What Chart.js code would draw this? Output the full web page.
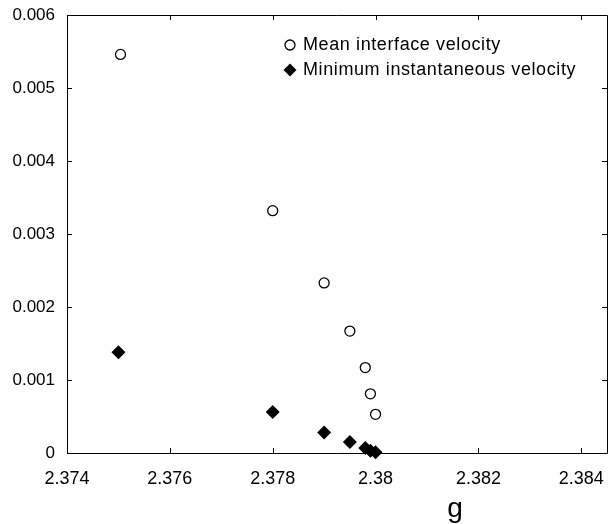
<!DOCTYPE html>
<html>
<head>
<meta charset="utf-8">
<script src="https://cdn.jsdelivr.net/npm/chart.js@4.4.0/dist/chart.umd.min.js"></script>
<style>
  html, body { margin: 0; padding: 0; background: #ffffff; overflow: hidden; }
  /* a bit wider than the window so the right frame sits at the edge, as in the figure */
  #wrap { width: 614px; height: 524px; position: relative; }
</style>
</head>
<body>
<div id="wrap"><canvas id="chart"></canvas></div>
<script>
// data
const meanG = [2.37504, 2.3780, 2.3790, 2.3795, 2.3798, 2.3799, 2.3800];
const meanV = [0.00546, 0.00332, 0.00233, 0.00167, 0.00117, 0.00081, 0.00053];
const minG = [2.3750, 2.3780, 2.3790, 2.3795, 2.3798, 2.3799, 2.3800];
const minV = [0.00138, 0.00056, 0.00028, 0.00015, 0.00007, 0.00003, 0.00001];
const seriesLabels = ["Mean interface velocity", "Minimum instantaneous velocity"];
const xLabel = "g";

const FONT = "'Liberation Sans', Arial, sans-serif";

function toPoints(xs, ys) {
  return xs.map((x, i) => ({ x: x, y: ys[i] }));
}

function fmt(v) {
  return String(Number(v.toFixed(4)));
}

// frame with inward ticks on all four sides, legend inside, axis title "g"
const framePlugin = {
  id: "frame",
  afterDraw(chart) {
    const ctx = chart.ctx;
    const a = chart.chartArea;
    const xs = chart.scales.x;
    const ys = chart.scales.y;
    const TL = 5;
    ctx.save();
    ctx.strokeStyle = "#000000";
    ctx.lineWidth = 1;
    ctx.beginPath();
    ctx.rect(a.left + 0.5, a.top + 0.5, a.right - a.left, a.bottom - a.top);
    ctx.stroke();
    ctx.beginPath();
    xs.ticks.forEach((t) => {
      const px = Math.round(xs.getPixelForValue(t.value)) + 0.5;
      ctx.moveTo(px, a.bottom);
      ctx.lineTo(px, a.bottom - TL);
      ctx.moveTo(px, a.top);
      ctx.lineTo(px, a.top + TL);
    });
    ys.ticks.forEach((t) => {
      const py = Math.round(ys.getPixelForValue(t.value)) + 0.5;
      ctx.moveTo(a.left, py);
      ctx.lineTo(a.left + TL, py);
      ctx.moveTo(a.right, py);
      ctx.lineTo(a.right - TL, py);
    });
    ctx.stroke();

    // Legend
    ctx.font = `18px ${FONT}`;
    ctx.letterSpacing = "0.6px";
    ctx.fillStyle = "#000000";
    ctx.textBaseline = "middle";
    ctx.textAlign = "left";
    const lx = 290;
    const rows = [45, 70];
    // open circle
    ctx.lineWidth = 1.3;
    ctx.beginPath();
    ctx.arc(lx, rows[0], 5, 0, Math.PI * 2);
    ctx.stroke();
    ctx.fillText(seriesLabels[0], 303, rows[0]);
    // diamond
    ctx.beginPath();
    ctx.moveTo(lx, rows[1] - 6.5);
    ctx.lineTo(lx + 6.5, rows[1]);
    ctx.lineTo(lx, rows[1] + 6.5);
    ctx.lineTo(lx - 6.5, rows[1]);
    ctx.closePath();
    ctx.fill();
    ctx.fillText(seriesLabels[1], 303, rows[1]);

    // Axis title
    ctx.letterSpacing = "0px";
    ctx.font = `28px ${FONT}`;
    ctx.textAlign = "center";
    ctx.textBaseline = "alphabetic";
    ctx.fillText(xLabel, 455, 517);
    ctx.restore();
  },
};

new Chart(document.getElementById("chart"), {
  type: "scatter",
  data: {
    datasets: [
      {
        label: seriesLabels[0],
        data: toPoints(meanG, meanV),
        pointStyle: "circle",
        pointRadius: 5,
        pointBorderWidth: 1.3,
        pointBorderColor: "#000000",
        pointBackgroundColor: "#ffffff",
        clip: false,
      },
      {
        label: seriesLabels[1],
        data: toPoints(minG, minV),
        pointStyle: "rectRot",
        pointRadius: 7,
        pointBorderWidth: 0,
        pointBorderColor: "#000000",
        pointBackgroundColor: "#000000",
        clip: false,
      },
    ],
  },
  options: {
    responsive: true,
    maintainAspectRatio: false,
    animation: false,
    events: [],
    layout: { padding: { top: 15, left: 0, right: 0, bottom: 0 } },
    plugins: {
      legend: { display: false },
      tooltip: { enabled: false },
    },
    scales: {
      x: {
        type: "linear",
        min: 2.374,
        max: 2.3845,
        grid: { display: false },
        border: { display: false },
        ticks: {
          stepSize: 0.002,
          includeBounds: false,
          maxRotation: 0,
          padding: 7,
          color: "#000000",
          font: { family: FONT, size: 18 },
          callback: (v) => fmt(v),
        },
        afterFit(scale) {
          scale.height = 71;
          scale.paddingLeft = 0;
          scale.paddingRight = 0;
        },
      },
      y: {
        type: "linear",
        min: 0,
        max: 0.006,
        grid: { display: false },
        border: { display: false },
        ticks: {
          stepSize: 0.001,
          padding: 4,
          color: "#000000",
          font: { family: FONT, size: 17 },
          callback: (v) => fmt(v),
        },
        afterFit(scale) {
          scale.width = 67;
          scale.paddingTop = 0;
          scale.paddingBottom = 0;
        },
      },
    },
  },
  plugins: [framePlugin],
});
</script>
</body>
</html>
